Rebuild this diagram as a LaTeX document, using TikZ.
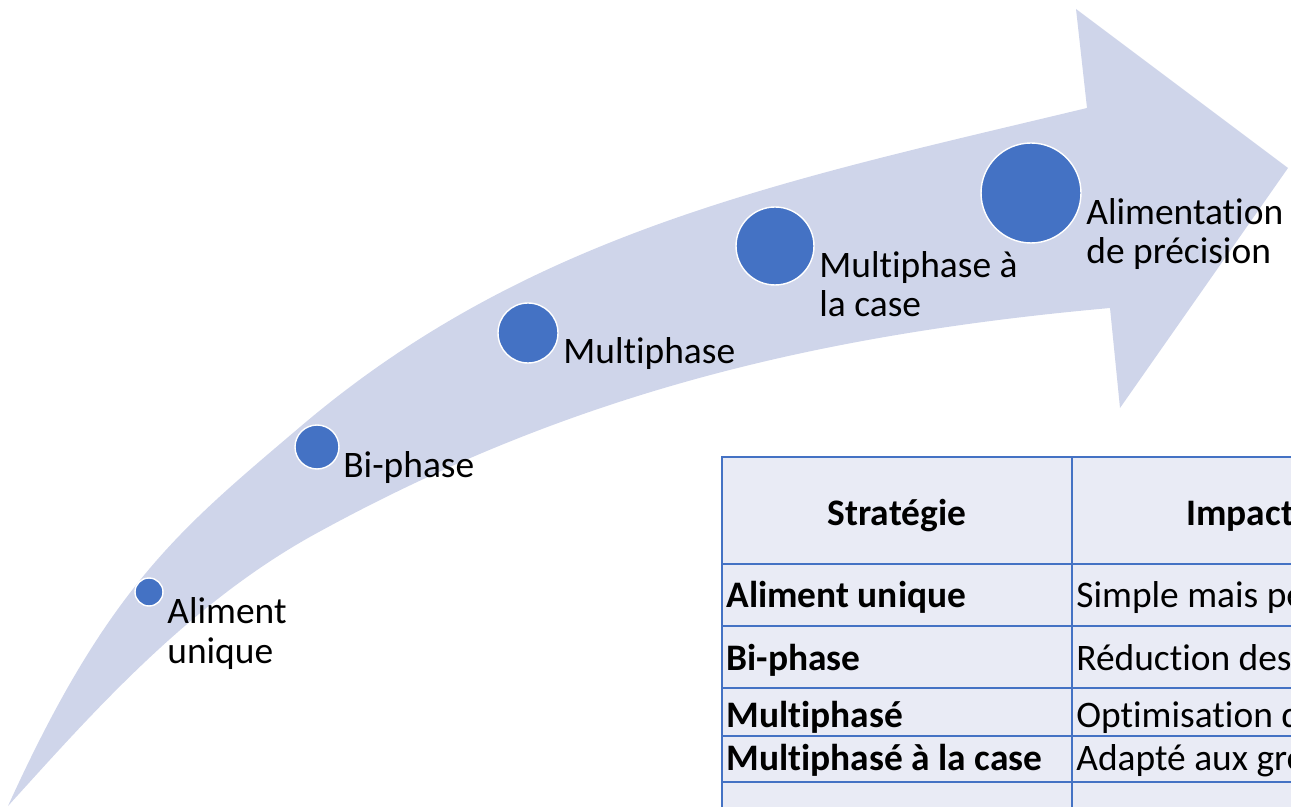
\documentclass[tikz,border=0pt]{standalone}
\usepackage{fontspec}
\setmainfont{Carlito}[Ligatures=NoCommon]
\usepackage{tikz}
\usetikzlibrary{positioning}
\definecolor{bandfill}{HTML}{CFD5EA}
\definecolor{dotblue}{HTML}{4472C4}
\definecolor{cellfill}{HTML}{E9EBF5}
\definecolor{cellline}{HTML}{4472C4}

\begin{document}
\begin{tikzpicture}[
  x=0.02cm,y=-0.02cm,
  every node/.style={font=\fontsize{21.3}{22.7}\selectfont},
  stage/.style={circle,fill=dotblue,draw=white,line width=0.8pt,inner sep=0pt},
  lbl/.style={anchor=base west,align=left,inner sep=0pt},
  grid/.style={draw=cellline,line width=1.4pt},
  txt/.style={anchor=base west,inner sep=0pt}
]
\useasboundingbox (0,0) rectangle (1291,807);
\clip (0,0) rectangle (1291,807);

% curved band with its head
\fill[bandfill] (8,806) .. controls (108,586) and (180,529) .. (300,427)
  .. controls (530,231) and (787,180) .. (1087,108)
  -- (1076,9) -- (1288,168) -- (1120,408) -- (1110,308)
  .. controls (810,335) and (567,396) .. (317,533)
  .. controls (187,604) and (88,718) .. (8,806) -- cycle;

% stages along the band
\node[stage,minimum size=0.56cm] (c1) at (149,592) {};
\node[stage,minimum size=0.88cm] (c2) at (317,447) {};
\node[stage,minimum size=1.2cm] (c3) at (528,333) {};
\node[stage,minimum size=1.56cm] (c4) at (775,246) {};
\node[stage,minimum size=2cm] (c5) at (1031,193) {};

\node[lbl] (l1) at (167,663) {Aliment\\unique};
\node[lbl] (l2) at (343,477) {Bi-phase};
\node[lbl] (l3) at (563,363) {Multiphase};
\node[lbl] (l4) at (819,317) {Multiphase à\\la case};
\node[lbl] (l5) at (1086,264) {Alimentation\\de précision};

% table
\fill[cellfill] (722,457) rectangle (1440,840);
\draw[grid] (722,457) rectangle (1440,840);
\foreach \y in {564,626,688,736,782}
  \draw[grid] (722,\y) -- (1440,\y);
\draw[grid] (1072,457) -- (1072,840);

\node[txt,anchor=base,font=\fontsize{21.3}{22.7}\selectfont\bfseries] (h1) at (897,525) {Stratégie};
\node[txt,font=\fontsize{21.3}{22.7}\selectfont\bfseries] (h2) at (1186,525) {Impact};
\node[txt] (a1) at (726,607) {\textbf{Aliment unique}};
\node[txt] (a2) at (1076,607) {Simple mais pe};
\node[txt] (b1) at (726,670) {\textbf{Bi-phase}};
\node[txt] (b2) at (1076,670) {Réduction des};
\node[txt] (m1) at (726,727) {\textbf{Multiphasé}};
\node[txt] (m2) at (1076,727) {Optimisation d};
\node[txt] (p1) at (726,770) {\textbf{Multiphasé à la case}};
\node[txt] (p2) at (1076,770) {Adapté aux gro};
\end{tikzpicture}
\end{document}
